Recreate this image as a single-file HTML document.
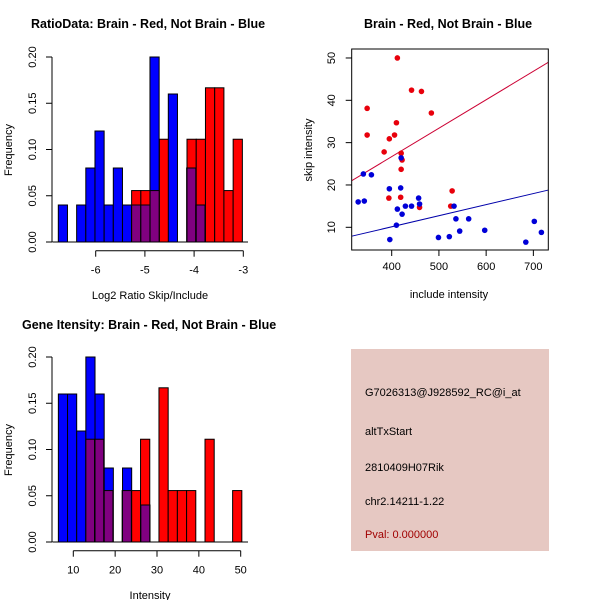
<!DOCTYPE html>
<html><head><meta charset="utf-8"><style>
body{margin:0;background:#fff}
svg text{font-family:"Liberation Sans",sans-serif;font-size:11px;fill:#000}
.t{font-weight:bold;font-size:12.5px}
</style></head><body>
<svg id="s" width="600" height="600" xmlns="http://www.w3.org/2000/svg">
<rect x="0" y="0" width="600" height="600" fill="#fff"/>
<text class="t" x="31" y="28">RatioData: Brain - Red, Not Brain - Blue</text>
<text class="t" x="364" y="28">Brain - Red, Not Brain - Blue</text>
<text class="t" x="22" y="329">Gene Itensity: Brain - Red, Not Brain - Blue</text>
<g id="info">
<rect x="351" y="349" width="198" height="202" fill="#e6c8c2"/>
<text x="365" y="396">G7026313@J928592_RC@i_at</text>
<text x="365" y="435">altTxStart</text>
<text x="365" y="471">2810409H07Rik</text>
<text x="365" y="505">chr2.14211-1.22</text>
<text x="365" y="538" style="fill:#a00000">Pval: 0.000000</text>
</g>
</svg>
<script>
// Ratio histogram data
const ratioBlueStart=-6.76, ratioBlueWidth=0.1863;
const ratioBlue=[0.04,0,0.04,0.08,0.12,0.04,0.08,0.04,0.04,0.04,0.2,0,0.16,0,0.08,0.04];
const ratioRedStart=-5.27, ratioRedWidth=0.1876;
const ratioRed=[0.0556,0.0556,0.0556,0.1111,0,0,0.1111,0.1111,0.1667,0.1667,0.0556,0.1111];
const ratioXTicks=[-6,-5,-4,-3];
const freqTicks=[0,0.05,0.10,0.15,0.20];
const freqLabels=["0.00","0.05","0.10","0.15","0.20"];
// Intensity histogram data
const intBlueStart=6.43, intBlueWidth=2.19;
const intBlue=[0.16,0.16,0.12,0.2,0.16,0.08,0,0.08,0,0.04];
const intRedStart=12.87, intRedWidth=2.2;
const intRed=[0.1111,0.1111,0.0556,0,0.0556,0.0556,0.1111,0,0.1667,0.0556,0.0556,0.0556,0,0.1111,0,0,0.0556];
const intXTicks=[10,20,30,40,50];
// Scatter data
const redX=[412,442,463,348,484,410,348,406,395,384,420,422,420,528,394,419,525,459];
const redY=[50,42.4,42.1,38.1,37,34.7,31.8,31.8,30.9,27.8,27.5,25.9,23.7,18.6,16.9,17.1,15,14.7];
const blueX=[420,340,357,395,419,329,342,457,459,429,442,532,412,422,536,563,410,544,597,702,717,684,499,522,396];
const blueY=[26.4,22.6,22.4,19.1,19.3,16,16.2,16.9,15.5,15,15,15,14.3,13.1,12,12,10.5,9.1,9.3,11.4,8.8,6.5,7.6,7.8,7.1];
const redFit=[-0.19,0.0672];
const blueFit=[-0.35,0.02617];
const scX=[400,500,600,700];
const scY=[10,20,30,40,50];

const S=document.getElementById('s');
const NS='http://www.w3.org/2000/svg';
function mk(tag,a,parent){const e=document.createElementNS(NS,tag);for(const k in a)e.setAttribute(k,a[k]);(parent||S).appendChild(e);return e;}

function hist(oy,x0px,pxPerUnit,xref,blueStart,bw,blue,redStart,rw,red,xticks,xlabel,prefix){
  const X=v=>x0px+(v-xref)*pxPerUnit;
  const Y=v=>oy-925*v;
  const g=mk('g',{});
  
  
  const rects=[];
  red.forEach((v,i)=>{if(v<=0)return;const a=X(redStart+i*rw),b=X(redStart+(i+1)*rw);
    const r=mk('rect',{x:a,y:Y(v),width:b-a,height:oy-Y(v),fill:'#ff0000',stroke:'#000','stroke-width':1},g);
    
    
    rects.push([a,b,v]);});
  blue.forEach((v,i)=>{if(v<=0)return;const a=X(blueStart+i*bw),b=X(blueStart+(i+1)*bw);
    const r=mk('rect',{x:a,y:Y(v),width:b-a,height:oy-Y(v),fill:'#0000ff',stroke:'#000','stroke-width':1},g);
    
    
    rects.forEach(([ra,rb,rv])=>{const l=Math.max(a,ra),h=Math.min(b,rb);if(h-l>1){const m=Math.min(v,rv);
      const p=mk('rect',{x:l,y:Y(m),width:h-l,height:oy-Y(m),fill:'#800080',stroke:'#000','stroke-width':1},g);
      
      }});
  });
  // y axis
  mk('line',{x1:52,x2:52,y1:Y(0),y2:Y(0.2),stroke:'#000'},g);
  freqTicks.forEach((t,i)=>{mk('line',{x1:46,x2:52,y1:Y(t),y2:Y(t),stroke:'#000'},g);
    const tx=mk('text',{x:0,y:0,'text-anchor':'middle',transform:`translate(36,${Y(t)}) rotate(-90)`},g);
    tx.textContent=freqLabels[i];
    
    });
  const yl=mk('text',{x:0,y:0,'text-anchor':'middle',transform:`translate(12,${oy-92}) rotate(-90)`},g);
  yl.textContent='Frequency';
  
  
  // x baseline
  mk('line',{x1:X(blueStart)-6,x2:248,y1:oy,y2:oy,stroke:'#000'},g);
  const ay=oy+8.7;
  mk('line',{x1:X(xticks[0]),x2:X(xticks[xticks.length-1]),y1:ay,y2:ay,stroke:'#000'},g);
  xticks.forEach(t=>{mk('line',{x1:X(t),x2:X(t),y1:ay,y2:ay+6,stroke:'#000'},g);
    const tx=mk('text',{x:X(t),y:ay+23,'text-anchor':'middle'},g);
    tx.textContent=String(t).replace('-','-');
    
    });
  const xl=mk('text',{x:150,y:oy+57,'text-anchor':'middle'},g);
  xl.textContent=xlabel;
  
  
}
hist(242,95.7,49.2,-6,ratioBlueStart,ratioBlueWidth,ratioBlue,ratioRedStart,ratioRedWidth,ratioRed,ratioXTicks,'Log2 Ratio Skip/Include','ratio');
hist(542,73.3,4.185,10,intBlueStart,intBlueWidth,intBlue,intRedStart,intRedWidth,intRed,intXTicks,'Intensity','intensity');

// Scatter
(function(){
  const L=351.7,R=548.3,T=49,B=250;
  const X=v=>391.7+(v-400)*0.4722;
  const Y=v=>227.3-(v-10)*4.233;
  const Xi=p=>400+(p-391.7)/0.4722;
  const g=mk('g',{});
  
  
  const cp=mk('clipPath',{id:'cp'},g);mk('rect',{x:L,y:T,width:R-L,height:B-T},cp);
  [[redFit,'#cc0033','red-fit-line'],[blueFit,'#0000aa','blue-fit-line']].forEach(([f,c,n])=>{
    const a=Xi(L),b=Xi(R);
    const l=mk('line',{x1:L,x2:R,y1:Y(f[0]+f[1]*a),y2:Y(f[0]+f[1]*b),stroke:c,'stroke-width':1,'clip-path':'url(#cp)'},g);
    
    });
  redX.forEach((x,i)=>{const c=mk('circle',{cx:X(x),cy:Y(redY[i]),r:2.8,fill:'#e8000b'},g);
    
    });
  blueX.forEach((x,i)=>{const c=mk('circle',{cx:X(x),cy:Y(blueY[i]),r:2.8,fill:'#0000d8'},g);
    
    });
  mk('rect',{x:L,y:T,width:R-L,height:B-T,fill:'none',stroke:'#000'},g);
  scX.forEach(t=>{mk('line',{x1:X(t),x2:X(t),y1:B,y2:B+6,stroke:'#000'},g);
    const tx=mk('text',{x:X(t),y:B+20,'text-anchor':'middle'},g);tx.textContent=t;
    
    });
  scY.forEach(t=>{mk('line',{x1:L-6,x2:L,y1:Y(t),y2:Y(t),stroke:'#000'},g);
    const tx=mk('text',{x:0,y:0,'text-anchor':'middle',transform:`translate(335,${Y(t)}) rotate(-90)`},g);tx.textContent=t;
    
    });
  const xl=mk('text',{x:449,y:298,'text-anchor':'middle'},g);xl.textContent='include intensity';
  
  
  const yl=mk('text',{x:0,y:0,'text-anchor':'middle',transform:'translate(312,150) rotate(-90)'},g);yl.textContent='skip intensity';
  
  
})();
</script>
</body></html>
